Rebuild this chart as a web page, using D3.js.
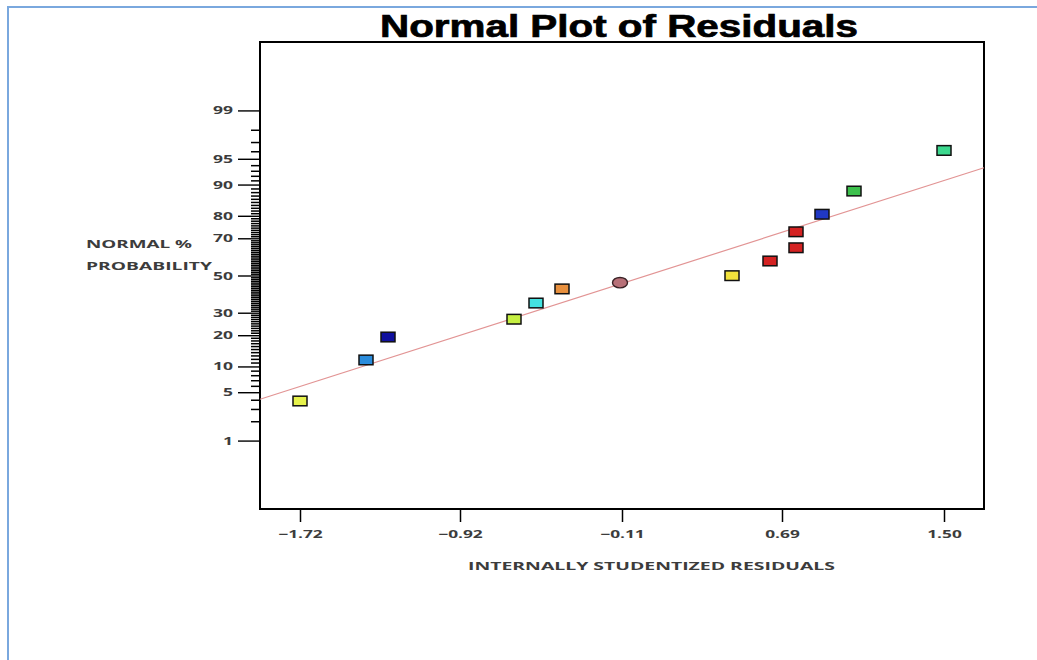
<!DOCTYPE html>
<html>
<head>
<meta charset="utf-8">
<script src="https://cdn.jsdelivr.net/npm/d3@7"></script>
<style>
  html, body { margin: 0; padding: 0; background: #ffffff; }
  svg { display: block; }
</style>
</head>
<body>
<svg id="chart" width="1037" height="660"></svg>
<script>
// Residuals (x) and their normal % probability (y), one entry per run
const residuals = [-1.72, -1.39, -1.28, -0.65, -0.54, -0.41, -0.12, 0.44, 0.63, 0.76, 0.76, 0.89, 1.05, 1.50];
const normalPct = [3.85, 11.7, 19.3, 26.9, 34.9, 42.5, 46.0, 49.9, 58.1, 65.2, 73.1, 80.6, 88.3, 96.1];
const pointColors = ["#e6f24c", "#2a8cdc", "#10109e", "#c6f042", "#44e2e0", "#e8903e", "#b87078",
                     "#f2e23c", "#d42222", "#d42222", "#d42222", "#2038c4", "#3cc04c", "#3cd88e"];
const pointShapes = ["square", "square", "square", "square", "square", "square", "circle",
                     "square", "square", "square", "square", "square", "square", "square"];

// Reference line through the points, given by its two ends
const fitX = [-1.92, 1.70];
const fitPct = [4.06, 93.56];

// Axis ticks
const xTicks = [-1.72, -0.92, -0.11, 0.69, 1.50];
const yMajorPct = [1, 5, 10, 20, 30, 50, 70, 80, 90, 95, 99];
const yMinorPct = d3.range(2, 99).filter(p => !yMajorPct.includes(p));
const pctDomain = [0.05, 99.95];

// Inverse standard normal CDF (Acklam's rational approximation)
function probit(p) {
  const a = [-3.969683028665376e+01, 2.209460984245205e+02, -2.759285104469687e+02, 1.383577518672690e+02, -3.066479806614716e+01, 2.506628277459239e+00];
  const b = [-5.447609879822406e+01, 1.615858368580409e+02, -1.556989798598866e+02, 6.680131188771972e+01, -1.328068155288572e+01];
  const c = [-7.784894002430293e-03, -3.223964580411365e-01, -2.400758277161838e+00, -2.549732539343734e+00, 4.374664141464968e+00, 2.938163982698783e+00];
  const d = [7.784695709041462e-03, 3.224671290700398e-01, 2.445134137142996e+00, 3.754408661907416e+00];
  const pl = 0.02425, ph = 1 - pl;
  if (p < pl) {
    const q = Math.sqrt(-2 * Math.log(p));
    return (((((c[0]*q+c[1])*q+c[2])*q+c[3])*q+c[4])*q+c[5]) / ((((d[0]*q+d[1])*q+d[2])*q+d[3])*q+1);
  }
  if (p <= ph) {
    const q = p - 0.5, r = q * q;
    return (((((a[0]*r+a[1])*r+a[2])*r+a[3])*r+a[4])*r+a[5])*q / (((((b[0]*r+b[1])*r+b[2])*r+b[3])*r+b[4])*r+1);
  }
  const q = Math.sqrt(-2 * Math.log(1 - p));
  return -(((((c[0]*q+c[1])*q+c[2])*q+c[3])*q+c[4])*q+c[5]) / ((((d[0]*q+d[1])*q+d[2])*q+d[3])*q+1);
}
const z = pct => probit(pct / 100);

const svg = d3.select("#chart");
const box = { left: 260, right: 984, top: 42, bottom: 509 };

// Page frame
svg.append("path")
  .attr("d", "M8,660 L8,7 L1037,7")
  .attr("fill", "none")
  .attr("stroke", "#7aa8de")
  .attr("stroke-width", 2);

const x = d3.scaleLinear().domain([-1.92, 1.70]).range([box.left, box.right]);
const zScale = d3.scaleLinear().domain(pctDomain.map(z)).range([box.bottom, box.top]);
const y = pct => zScale(z(pct));

const labelFont = "'Open Sans', 'DejaVu Sans', sans-serif";

// Widen numeric labels to the chart's wide lettering
function stretchLabel(sel) {
  sel.each(function () {
    const t = this.textContent;
    let w = 0;
    for (const ch of t) w += ch === "." ? 4.5 : ch === "-" ? 6 : 10;
    d3.select(this).attr("textLength", w).attr("lengthAdjust", "spacingAndGlyphs");
  });
}

// Title
svg.append("text")
  .attr("x", 619).attr("y", 37)
  .attr("text-anchor", "middle")
  .attr("font-family", "'Liberation Sans', Arial, sans-serif")
  .attr("font-weight", "bold")
  .attr("font-size", 31)
  .attr("fill", "#000")
  .attr("stroke", "#000")
  .attr("stroke-width", 0.7)
  .attr("textLength", 478)
  .attr("lengthAdjust", "spacingAndGlyphs")
  .text("Normal Plot of Residuals");

// Y axis: minor ticks at every whole percent, majors labelled
const yMinor = svg.append("g")
  .attr("transform", `translate(${box.left},0)`)
  .call(d3.axisLeft(zScale).tickValues(yMinorPct.map(z)).tickSize(9).tickFormat(""));
yMinor.select(".domain").remove();
yMinor.selectAll(".tick line").attr("stroke", "#000").attr("stroke-width", 1.5);

const yMajor = svg.append("g")
  .attr("transform", `translate(${box.left},0)`)
  .call(d3.axisLeft(zScale).tickValues(yMajorPct.map(z)).tickSize(22).tickPadding(5)
    .tickFormat((d, i) => yMajorPct[i]));
yMajor.select(".domain").remove();
yMajor.selectAll(".tick line").attr("stroke", "#000").attr("stroke-width", 1.4);
yMajor.selectAll(".tick text")
  .attr("font-family", labelFont).attr("font-weight", "bold").attr("font-size", 11)
  .attr("fill", "#3c3c3c")
  .call(stretchLabel);

// X axis
const xAxis = svg.append("g")
  .attr("transform", `translate(0,${box.bottom})`)
  .call(d3.axisBottom(x).tickValues(xTicks).tickSize(13).tickPadding(8)
    .tickFormat(d3.format(".2f")));
xAxis.select(".domain").remove();
xAxis.selectAll(".tick line").attr("stroke", "#000").attr("stroke-width", 1.5);
xAxis.selectAll(".tick text")
  .attr("font-family", labelFont).attr("font-weight", "bold").attr("font-size", 11)
  .attr("fill", "#3c3c3c")
  .call(stretchLabel);

// Axis titles
svg.append("text")
  .attr("x", 651.5).attr("y", 570)
  .attr("text-anchor", "middle")
  .attr("font-family", labelFont).attr("font-weight", "bold").attr("font-size", 11)
  .attr("fill", "#3c3c3c")
  .attr("textLength", 367).attr("lengthAdjust", "spacingAndGlyphs")
  .text("INTERNALLY STUDENTIZED RESIDUALS");

const yTitle = svg.append("g")
  .attr("font-family", labelFont).attr("font-weight", "bold").attr("font-size", 11)
  .attr("fill", "#3c3c3c");
yTitle.append("text").attr("x", 86).attr("y", 248)
  .attr("textLength", 106).attr("lengthAdjust", "spacingAndGlyphs").text("NORMAL %");
yTitle.append("text").attr("x", 86).attr("y", 270)
  .attr("textLength", 126).attr("lengthAdjust", "spacingAndGlyphs").text("PROBABILITY");

// Plot frame
svg.append("rect")
  .attr("x", box.left).attr("y", box.top)
  .attr("width", box.right - box.left).attr("height", box.bottom - box.top)
  .attr("fill", "none").attr("stroke", "#000").attr("stroke-width", 2);

// Reference line
svg.append("line")
  .attr("x1", x(fitX[0])).attr("y1", y(fitPct[0]))
  .attr("x2", x(fitX[1])).attr("y2", y(fitPct[1]))
  .attr("stroke", "#e29494").attr("stroke-width", 1.2);

// Points
const points = residuals.map((r, i) => ({ r, p: normalPct[i], color: pointColors[i], shape: pointShapes[i] }));
const marks = svg.append("g");
marks.selectAll("rect")
  .data(points.filter(d => d.shape === "square"))
  .join("rect")
  .attr("x", d => x(d.r) - 7).attr("y", d => y(d.p) - 4.8)
  .attr("width", 14).attr("height", 9.6)
  .attr("fill", d => d.color)
  .attr("stroke", "#111").attr("stroke-width", 1.5);
marks.selectAll("ellipse")
  .data(points.filter(d => d.shape === "circle"))
  .join("ellipse")
  .attr("cx", d => x(d.r)).attr("cy", d => y(d.p))
  .attr("rx", 7.5).attr("ry", 5.2)
  .attr("fill", d => d.color)
  .attr("stroke", "#3a2226").attr("stroke-width", 1.4);
</script>
</body>
</html>
